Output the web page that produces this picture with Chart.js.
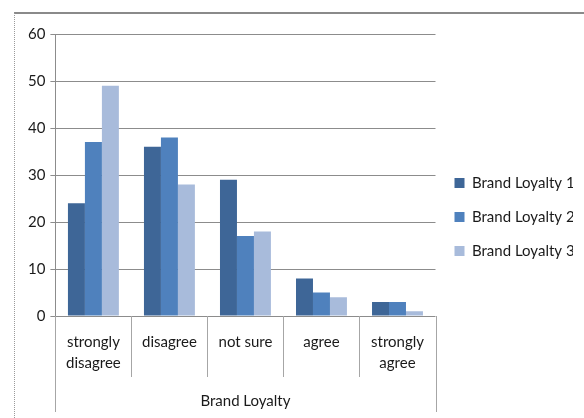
<!DOCTYPE html>
<html>
<head>
<meta charset="utf-8">
<script src="https://cdn.jsdelivr.net/npm/chart.js@4/dist/chart.umd.min.js"></script>
<style>
    html, body { margin: 0; padding: 0; background: #fff; overflow: hidden; }
    body { width: 584px; height: 418px; position: relative; }
    /* chart frame: only the top and left edges fall inside the page */
    .frame {
        position: absolute; left: 14px; top: 12px; width: 620px; height: 440px;
        border-top: 2px solid #8a8a8a; border-left: 1px dotted #9a9a9a;
    }
    .wrap { position: absolute; left: 15px; top: 14px; width: 569px; height: 404px; }
</style>
</head>
<body>
<div class="frame"></div>
<div class="wrap"><canvas id="chart"></canvas></div>
<script>
// Survey answers per loyalty item
const categories = [['strongly', 'disagree'], 'disagree', 'not sure', 'agree', ['strongly', 'agree']];
const loyalty1 = [24, 36, 29, 8, 3];
const loyalty2 = [37, 38, 17, 5, 3];
const loyalty3 = [49, 28, 18, 4, 1];
const seriesNames = ['Brand Loyalty 1', 'Brand Loyalty 2', 'Brand Loyalty 3'];
const seriesColors = ['#3e6697', '#4f81bd', '#a8bbdb'];
const yTicks = [0, 10, 20, 30, 40, 50, 60];

const FONT = 'Lato, "Open Sans", sans-serif';
const TEXT = '#1a1a1a';

/**
 * Category dividers below the axis, like a spreadsheet's grouped axis
 */
const categoryDividers = {
    id: 'categoryDividers',
    afterDraw(chart) {
        const x = chart.scales.x;
        const ctx = chart.ctx;
        const top = chart.chartArea.bottom;
        const n = categories.length;
        ctx.save();
        ctx.strokeStyle = '#a6a6a6';
        ctx.lineWidth = 1;
        for (let i = 0; i <= n; i++) {
            const px = Math.round(x.getPixelForValue(i - 0.5)) + 0.5;
            const outer = i === 0 || i === n;
            ctx.beginPath();
            ctx.moveTo(px, top);
            ctx.lineTo(px, top + (outer ? 96 : 61));
            ctx.stroke();
        }
        ctx.restore();
    }
};

const datasets = [loyalty1, loyalty2, loyalty3].map((values, i) => ({
    label: seriesNames[i],
    data: values,
    backgroundColor: seriesColors[i],
    borderWidth: 0,
    categoryPercentage: 0.67,
    barPercentage: 1.0
}));

new Chart(document.getElementById('chart'), {
    type: 'bar',
    data: { labels: categories, datasets },
    plugins: [categoryDividers],
    options: {
        responsive: true,
        maintainAspectRatio: false,
        animation: false,
        // bottom padding keeps the legend centred a little higher than the canvas middle
        layout: { padding: { top: 20, left: 8, right: 11, bottom: 18 } },
        plugins: {
            tooltip: { enabled: false },
            legend: {
                position: 'right',
                align: 'center',
                labels: {
                    boxWidth: 10,
                    boxHeight: 10,
                    padding: 19,
                    color: TEXT,
                    font: { family: FONT, size: 15 }
                }
            }
        },
        scales: {
            x: {
                grid: { display: false, drawTicks: false },
                border: { display: false },
                ticks: {
                    color: TEXT,
                    padding: 16,
                    maxRotation: 0,
                    autoSkip: false,
                    font: { family: FONT, size: 15, lineHeight: 1.4 }
                },
                title: {
                    display: true,
                    text: 'Brand Loyalty',
                    color: TEXT,
                    font: { family: FONT, size: 15 },
                    // sits below the padded box, level with the outer dividers' ends
                    padding: { top: 0, bottom: -10 }
                },
                afterFit: (scale) => { scale.height = 84; }
            },
            y: {
                min: 0,
                max: 60,
                afterBuildTicks: (scale) => { scale.ticks = yTicks.map(v => ({ value: v })); },
                grid: { color: '#8c8c8c', lineWidth: 1, tickLength: 5 },
                border: { display: true, color: '#8c8c8c' },
                ticks: {
                    color: TEXT,
                    padding: 5,
                    font: { family: FONT, size: 15 }
                }
            }
        }
    }
});
</script>
</body>
</html>
